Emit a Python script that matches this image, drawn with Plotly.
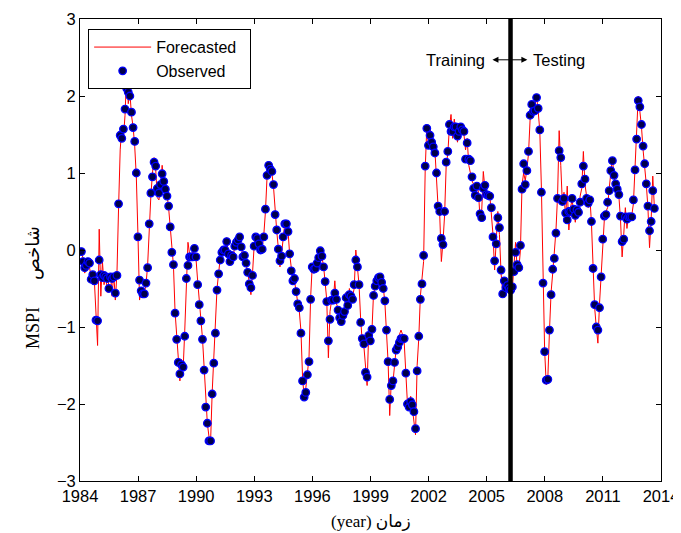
import plotly.graph_objects as go

start_year = 1984
split_year = 2006.23
x_ticks = [1984, 1987, 1990, 1993, 1996, 1999, 2002, 2005, 2008, 2011, 2014]
y_ticks = [-3, -2, -1, 0, 1, 2, 3]

# Observed MSPI, monthly from Jan 1984
observed = [
    -0.02, -0.15, -0.23, -0.20, -0.15, -0.17, -0.38, -0.32, -0.40, -0.91, -0.92, -0.13,  # 1984
    -0.32, -0.36, -0.33, -0.35, -0.37, -0.50, -0.35, -0.37, -0.35, -0.56, -0.33, 0.60,   # 1985
    1.49, 1.45, 1.57, 1.83, 2.10, 2.05, 2.00, 1.79, 1.59, 1.41, 1.00, 0.17,              # 1986
    -0.39, -0.53, -0.57, -0.57, -0.43, -0.23, 0.34, 0.74, 0.95, 1.14, 1.09, 0.80,        # 1987
    0.74, 0.85, 0.99, 0.89, 0.79, 0.70, 0.57, 0.30, -0.03, -0.19, -0.82, -1.16,          # 1988
    -1.46, -1.61, -1.49, -1.52, -1.12, -0.37, -0.20, -0.09, -0.09, -0.09, 0.02, -0.09,   # 1989
    -0.45, -0.71, -0.92, -1.16, -1.56, -2.04, -2.25, -2.48, -2.48, -1.87, -1.47, -1.08,  # 1990
    -0.52, -0.31, -0.13, -0.03, 0.00, 0.00, 0.11, -0.05, -0.15, -0.07, -0.09, 0.05,      # 1991
    0.10, 0.13, 0.17, 0.04, -0.09, -0.07, -0.17, -0.29, -0.44, -0.49, -0.33, 0.05,       # 1992
    0.17, 0.15, 0.08, 0.00, 0.01, 0.17, 0.53, 0.97, 1.10, 1.05, 1.02, 0.85,              # 1993
    0.46, 0.26, 0.01, -0.14, -0.08, 0.17, 0.34, 0.34, 0.24, -0.05, -0.27, -0.40,         # 1994
    -0.37, -0.54, -0.70, -0.75, -1.08, -1.70, -1.91, -1.85, -1.62, -1.45, -0.64, -0.22,  # 1995
    -0.25, -0.24, -0.17, -0.10, -0.01, -0.08, -0.22, -0.41, -0.67, -1.18, -0.90, -0.65,  # 1996
    -0.65, -0.56, -0.64, -0.78, -0.88, -0.93, -0.85, -0.80, -0.62, -0.72, -0.58, -0.60,  # 1997
    -0.64, -0.45, -0.13, -0.22, -0.45, -0.94, -1.15, -1.22, -1.59, -1.65, -1.11, -1.18,  # 1998
    -1.03, -0.59, -0.47, -0.40, -0.36, -0.35, -0.42, -0.50, -0.66, -1.04, -1.45, -1.94,  # 1999
    -1.76, -1.70, -1.46, -1.30, -1.26, -1.20, -1.15, -1.15, -1.15, -1.60, -2.00, -2.04,  # 2000
    -1.97, -2.01, -2.10, -2.32, -1.57, -1.12, -0.64, -0.44, -0.07, 1.09, 1.58, 1.36,     # 2001
    1.49, 1.40, 1.34, 1.26, 1.00, 0.57, 0.50, 0.15, 0.07, 0.50, 1.14, 1.28,              # 2002
    1.63, 1.54, 1.54, 1.60, 1.60, 1.48, 1.54, 1.60, 1.56, 1.54, 1.18, 1.39,              # 2003
    1.18, 1.16, 0.95, 0.80, 0.71, 0.83, 0.68, 0.47, 0.42, 0.80, 0.84, 0.72,              # 2004
    0.71, 0.70, 0.55, 0.17, -0.14, 0.08, 0.42, 0.29, -0.26, -0.57, -0.40, -0.49,         # 2005
    -0.46, -0.50, -0.52, -0.48, -0.28, -0.03, -0.19, -0.23, 0.06, 0.79, 1.12, 0.85,      # 2006
    1.03, 1.28, 1.75, 1.89, 1.80, 1.81, 1.98, 1.84, 1.56, 0.75, -0.43, -1.32,            # 2007
    -1.69, -1.68, -1.04, -0.58, -0.25, -0.11, 0.22, 0.67, 1.29, 1.20, 0.63, 0.67,        # 2008
    0.48, 0.39, 0.50, 0.50, 0.67, 0.53, 0.45, 0.52, 0.49, 0.62, 0.86, 1.09,              # 2009
    0.92, 0.67, 0.61, 0.65, 0.37, -0.24, -0.71, -1.00, -1.04, -0.75, -0.35, 0.14,        # 2010
    0.44, 0.46, 0.62, 0.77, 1.03, 1.16, 0.97, 0.86, 0.79, 0.72, 0.44, 0.11,              # 2011
    0.14, 0.43, 0.40, 0.43, 0.43, 0.43, 0.65, 1.04, 1.44, 1.94, 1.86, 1.63,              # 2012
    1.35, 1.12, 0.86, 0.57, 0.25, 0.37, 0.77, 0.54,                                      # 2013
]

# Forecasted MSPI, same months
forecasted = [
    -0.05, -0.10, -0.30, -0.25, -0.12, -0.22, -0.33, -0.45, -0.40, -0.80, -1.24, 0.27,   # 1984
    -0.60, -0.15, -0.45, -0.30, -0.55, -0.40, -0.30, -0.60, -0.30, -0.65, -0.30, 0.55,   # 1985
    1.30, 1.60, 1.45, 1.75, 2.30, 1.90, 2.05, 1.75, 1.60, 1.35, 0.95, 0.20,              # 1986
    -0.65, -0.50, -0.60, -0.55, -0.45, -0.20, 0.30, 0.70, 1.00, 1.20, 1.05, 0.68,        # 1987
    0.65, 0.80, 1.10, 0.85, 0.75, 0.72, 0.55, 0.30, 0.00, -0.20, -0.80, -1.15,           # 1988
    -1.40, -1.70, -1.42, -1.55, -1.05, -0.30, 0.10, -0.05, -0.12, 0.00, -0.05, -0.12,    # 1989
    -0.40, -0.70, -0.90, -1.15, -1.55, -2.00, -2.25, -2.42, -2.50, -1.85, -1.45, -1.05,  # 1990
    -0.50, -0.30, -0.10, -0.05, 0.02, -0.02, 0.16, -0.08, -0.18, -0.05, -0.12, 0.08,     # 1991
    0.08, 0.15, 0.15, 0.08, -0.12, -0.05, -0.20, -0.30, -0.42, -0.58, -0.30, 0.05,       # 1992
    0.20, 0.12, 0.10, -0.05, 0.03, 0.20, 0.50, 0.95, 1.12, 1.05, 1.00, 0.82,             # 1993
    0.45, 0.25, 0.02, -0.22, -0.05, 0.15, 0.35, 0.32, 0.25, -0.05, -0.25, -0.40,         # 1994
    -0.40, -0.58, -0.68, -0.80, -1.05, -1.65, -1.92, -1.80, -1.60, -1.40, -0.62, -0.20,  # 1995
    -0.30, -0.20, -0.20, -0.05, -0.05, -0.10, -0.20, -0.42, -0.65, -1.40, -0.80, -0.65,  # 1996
    -0.65, -0.40, -0.70, -0.75, -0.92, -0.90, -0.82, -0.75, -0.55, -0.78, -0.50, -0.68,  # 1997
    -0.60, -0.50, 0.00, -0.25, -0.45, -0.90, -1.20, -1.25, -1.55, -1.76, -1.05, -1.20,   # 1998
    -1.05, -0.55, -0.50, -0.38, -0.32, -0.35, -0.42, -0.48, -0.68, -1.00, -1.45, -2.15,  # 1999
    -1.70, -1.72, -1.45, -1.28, -1.25, -1.10, -1.04, -1.10, -1.20, -1.60, -2.00, -2.05,  # 2000
    -1.90, -2.05, -2.20, -2.40, -1.50, -1.15, -0.60, -0.35, -0.15, 1.05, 1.60, 1.35,     # 2001
    1.58, 1.45, 1.25, 1.30, 0.95, 0.55, 0.45, -0.15, 0.10, 0.45, 1.10, 1.25,             # 2002
    1.60, 1.76, 1.45, 1.70, 1.55, 1.40, 1.62, 1.50, 1.55, 1.50, 1.30, 1.45,              # 2003
    1.10, 1.00, 0.90, 0.85, 0.65, 0.85, 0.75, 0.40, 0.50, 1.02, 0.80, 0.70,              # 2004
    0.68, 0.72, 0.50, 0.20, -0.26, 0.10, 0.50, 0.20, -0.30, -0.55, -0.45, -0.50,         # 2005
    -0.40, -0.55, -0.45, -0.50, -0.20, 0.10, -0.25, -0.25, 0.00, 0.85, 1.00, 0.90,       # 2006
    1.05, 1.25, 1.70, 1.85, 1.75, 1.90, 2.00, 1.80, 1.55, 0.80, -0.40, -1.30,            # 2007
    -1.75, -1.65, -1.05, -0.55, -0.30, -0.05, 0.25, 0.70, 1.55, 1.10, 0.60, 0.75,        # 2008
    0.40, 0.83, 0.26, 0.55, 0.65, 0.50, 0.36, 0.55, 0.50, 0.70, 0.80, 1.28,              # 2009
    0.85, 0.70, 0.55, 0.70, 0.35, -0.20, -0.75, -1.00, -1.21, -0.70, -0.30, 0.10,        # 2010
    0.40, 0.50, 0.55, 0.80, 1.00, 1.20, 0.95, 0.85, 0.80, 0.70, 0.40, -0.09,             # 2011
    0.20, 0.55, 0.28, 0.45, 0.40, 0.45, 0.60, 1.05, 1.40, 2.00, 1.80, 1.60,              # 2012
    1.30, 1.10, 0.85, 0.55, 0.03, 0.40, 0.96, 0.55,                                      # 2013
]

n = min(len(observed), len(forecasted))
t = [start_year + (i + 0.9) / 12.0 for i in range(n)]

sans = "Liberation Sans, Arial, DejaVu Sans, sans-serif"
serif = "Liberation Serif, Times New Roman, DejaVu Sans, serif"
nb = "\u00a0"

fig = go.Figure()
fig.add_trace(go.Scatter(
    x=t, y=forecasted[:n], mode="lines", name="Forecasted" + nb * 2,
    line=dict(color="#ff0000", width=1),
))
fig.add_trace(go.Scatter(
    x=t, y=observed[:n], mode="markers", name="Observed",
    marker=dict(size=7.5, color="#00004a", line=dict(color="#0000ff", width=1.3)),
))

fig.add_shape(type="line", x0=split_year, x1=split_year, xref="x",
              y0=0, y1=1, yref="paper",
              line=dict(color="black", width=4.5))

# Training <-> Testing label
fig.add_annotation(x=2005.03, y=2.47, xref="x", yref="y", xanchor="right",
                   text="Training", showarrow=False,
                   font=dict(family=sans, size=16.5, color="black"))
fig.add_annotation(x=2007.30, y=2.47, xref="x", yref="y", xanchor="left",
                   text="Testing", showarrow=False,
                   font=dict(family=sans, size=16.5, color="black"))
fig.add_annotation(x=2007.10, y=2.47, ax=2005.22, ay=2.47,
                   xref="x", yref="y", axref="x", ayref="y",
                   text="", showarrow=True, arrowside="end+start",
                   arrowhead=2, arrowsize=1.2, arrowwidth=1, arrowcolor="black")

fig.add_annotation(x=-0.1015, y=0.419, xref="paper", yref="paper",
                   text="MSPI" + nb * 6 + "شاخص", textangle=-90, showarrow=False,
                   font=dict(family=serif, size=18, color="black"))
fig.add_annotation(x=0.5, y=-0.0866, xref="paper", yref="paper",
                   text="(year) زمان", showarrow=False, yanchor="middle",
                   font=dict(family=serif, size=17, color="black"))

axis_common = dict(
    showline=True, linecolor="black", linewidth=1, mirror="ticks",
    ticks="inside", ticklen=5, tickwidth=1, tickcolor="black",
    showgrid=False, zeroline=False, automargin=False,
    tickfont=dict(family=sans, size=16.5, color="black"),
)
fig.update_xaxes(range=[1984, 2014], tickvals=x_ticks, **axis_common)
fig.update_yaxes(range=[-3, 3], tickvals=y_ticks, **axis_common)

# page body has an 8px default margin; size the figure to fit inside the window
fig.update_layout(
    width=673, height=525,
    margin=dict(l=72, r=20, t=11, b=52),
    paper_bgcolor="white", plot_bgcolor="white",
    showlegend=True,
    legend=dict(x=0.014, y=0.978, xanchor="left", yanchor="top",
                bgcolor="white", bordercolor="black", borderwidth=1,
                font=dict(family=sans, size=16, color="black"),
                itemwidth=57, tracegroupgap=0),
)

fig.write_html("out.html")
